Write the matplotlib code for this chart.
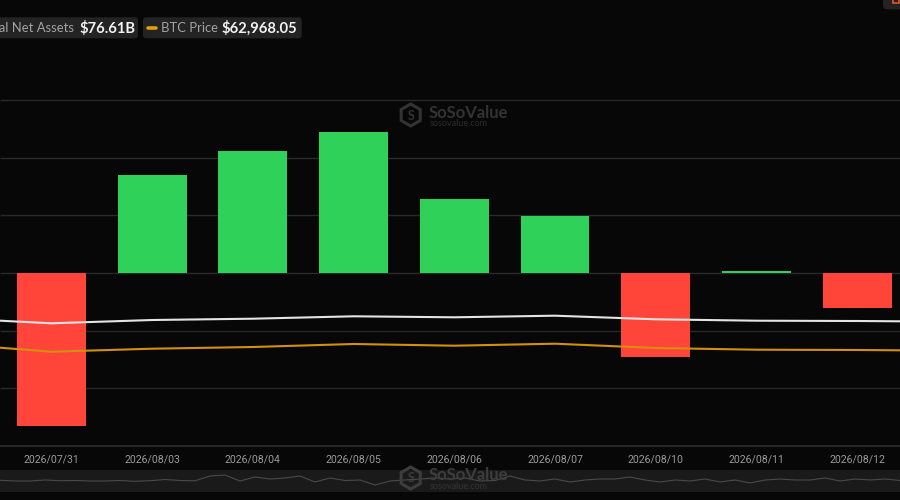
import matplotlib
matplotlib.use("Agg")
import matplotlib.pyplot as plt
from matplotlib.patches import FancyBboxPatch, RegularPolygon, Rectangle
import numpy as np

# ---------------- data ----------------
all_dates = ["2026/07/30", "2026/07/31", "2026/08/03", "2026/08/04", "2026/08/05",
             "2026/08/06", "2026/08/07", "2026/08/10", "2026/08/11", "2026/08/12",
             "2026/08/13"]
flow_dates = ["2026/07/31", "2026/08/03", "2026/08/04", "2026/08/05", "2026/08/06",
              "2026/08/07", "2026/08/10", "2026/08/11", "2026/08/12"]
# daily total net inflow ($M)
net_inflow = [-265, 170, 211, 244, 128, 98, -145, 4, -61]
# total net assets ($B)
total_net_assets = [78.33, 75.20, 77.22, 78.02, 79.49, 78.88, 79.86, 77.65, 76.79, 76.61, 76.18]
# BTC price ($)
btc_price = [66970, 61853, 63821, 64936, 66904, 65789, 67100, 64280, 63165, 62968.05, 62509]
# navigator overview series (arbitrary units)
nav_values = [-0.3, -1, -1, 0, -0.7, -0.5, -1, -1, -0.5, -1.3, -0.7, 0.5, -0.5, -0.8, 4, 5,
              -1, 3, 1, 2, 4, -2, 2, -0.5, 0, -5, -1, 0, 1, 2, 1, 2, -1, -0.5, 4, 0, -1,
              1, -2, 0, 1, 1, 3, 0, -2, 0, -1, 1, -2, 0, -3, 0, 1, 0, 0, 2, -1, 1, 0, 1, -0.5]

legend_assets_label = "Total Net Assets"
legend_assets_value = "\\$76.61B"
legend_btc_label = "BTC Price"
legend_btc_value = "\\$62,968.05"

# ---------------- style ----------------
BG = "#070707"
GREEN = "#30D158"
RED = "#FF453A"
GRID = "#2a2a2a"
WHITE_LINE = "#e4e4e4"
ORANGE = "#d4900c"

fig = plt.figure(figsize=(9, 5), dpi=100, facecolor=BG)

ax = fig.add_axes([0, 54 / 500, 1, 386 / 500])
ax.set_facecolor(BG)
pos = {d: i for i, d in enumerate(all_dates)}
bx = [pos[d] for d in flow_dates]
colors = [GREEN if v >= 0 else RED for v in net_inflow]
ax.bar(bx, net_inflow, width=0.685, color=colors, edgecolor="none", zorder=2)
ax.set_xlim(0.4886, 9.426)
ax.set_ylim(-300, 369.4)
ax.set_yticks([-300, -200, -100, 0, 100, 200, 300])
ax.grid(axis="y", color=GRID, lw=1)
ax.grid(axis="x", visible=False)
ax.set_axisbelow(True)
ax.axhline(-300, color="#2e2e2e", lw=1.2, clip_on=False, zorder=1)
ax.tick_params(axis="y", left=False, labelleft=False)
ax.set_xticks(bx)
ax.set_xticklabels(flow_dates, color="#9a9a9a", fontsize=7.6, family="Roboto")
ax.tick_params(axis="x", length=0, pad=6)
for s in ax.spines.values():
    s.set_visible(False)

x_all = np.arange(len(all_dates))
ax2 = ax.twinx()
ax2.set_ylim(0, 236.57)
ax2.plot(x_all, total_net_assets, color=WHITE_LINE, lw=1.5, zorder=3)
ax2.axis("off")

ax3 = ax.twinx()
ax3.set_ylim(0, 253185)
ax3.plot(x_all, btc_price, color=ORANGE, lw=1.5, zorder=3)
ax3.axis("off")
ax2.set_xlim(ax.get_xlim())
ax3.set_xlim(ax.get_xlim())

# ---------------- navigator ----------------
nav = fig.add_axes([0, (500 - 491.7) / 500, 1, 21.7 / 500])
nav.set_facecolor("#1a1a1a")
nav.plot(np.arange(len(nav_values)), nav_values, color="#4a4a4a", lw=0.8)
nav.set_xlim(0, len(nav_values) - 1)
nav.set_ylim(-11.7, 10)
nav.set_xticks([])
nav.set_yticks([])
for s in nav.spines.values():
    s.set_visible(False)

# ---------------- overlay (legend, watermark) ----------------
ov = fig.add_axes([0, 0, 1, 1])
ov.set_xlim(0, 900)
ov.set_ylim(500, 0)
ov.axis("off")
ov.patch.set_alpha(0)

ov.add_patch(FancyBboxPatch((-30, 17.3), 168, 21, boxstyle="round,pad=0,rounding_size=3",
                            fc="#232323", ec="none"))
ov.add_patch(FancyBboxPatch((143, 17.3), 158.7, 21, boxstyle="round,pad=0,rounding_size=3",
                            fc="#232323", ec="none"))
ov.text(74, 28.5, legend_assets_label, ha="right", va="center", color="#a3a3a3",
        fontsize=9.4, family="Lato")
ov.text(79, 28.5, legend_assets_value, ha="left", va="center", color="#f2f2f2",
        fontsize=10.6, fontweight="bold", family="Lato")
ov.plot([148, 155.5], [27.8, 27.8], color="#e0a010", lw=2.6, solid_capstyle="round")
ov.text(161, 28.5, legend_btc_label, ha="left", va="center", color="#a3a3a3",
        fontsize=9.4, family="Lato")
ov.text(222, 28.5, legend_btc_value, ha="left", va="center", color="#f2f2f2",
        fontsize=10.6, fontweight="bold", family="Lato")

# top-right button
ov.add_patch(FancyBboxPatch((883, -12), 30, 21.3, boxstyle="round,pad=0,rounding_size=4",
                            fc="#232323", ec="none"))
ov.add_patch(Rectangle((893, -4), 6, 6.5, fill=False, ec="#e0562c", lw=1.2))

def watermark(cy, c1, c2):
    ov.add_patch(RegularPolygon((410.7, cy), numVertices=6, radius=11, fill=False,
                                ec=c1, lw=2.2))
    ov.text(410.7, cy + 0.5, "S", ha="center", va="center", color=c1, fontsize=9,
            fontweight="bold", family="Lato")
    ov.text(429, cy + 2.5, "SoSoValue", ha="left", va="baseline", color=c1,
            fontsize=12, fontweight="bold", family="Lato")
    ov.text(429.5, cy + 11, "sosovalue.com", ha="left", va="baseline", color=c2,
            fontsize=6.5, family="Lato")

watermark(115, "#333333", "#2c2c2c")
watermark(478, "#3d3d3d", "#333333")

fig.savefig("out.png", dpi=100, facecolor=BG)
